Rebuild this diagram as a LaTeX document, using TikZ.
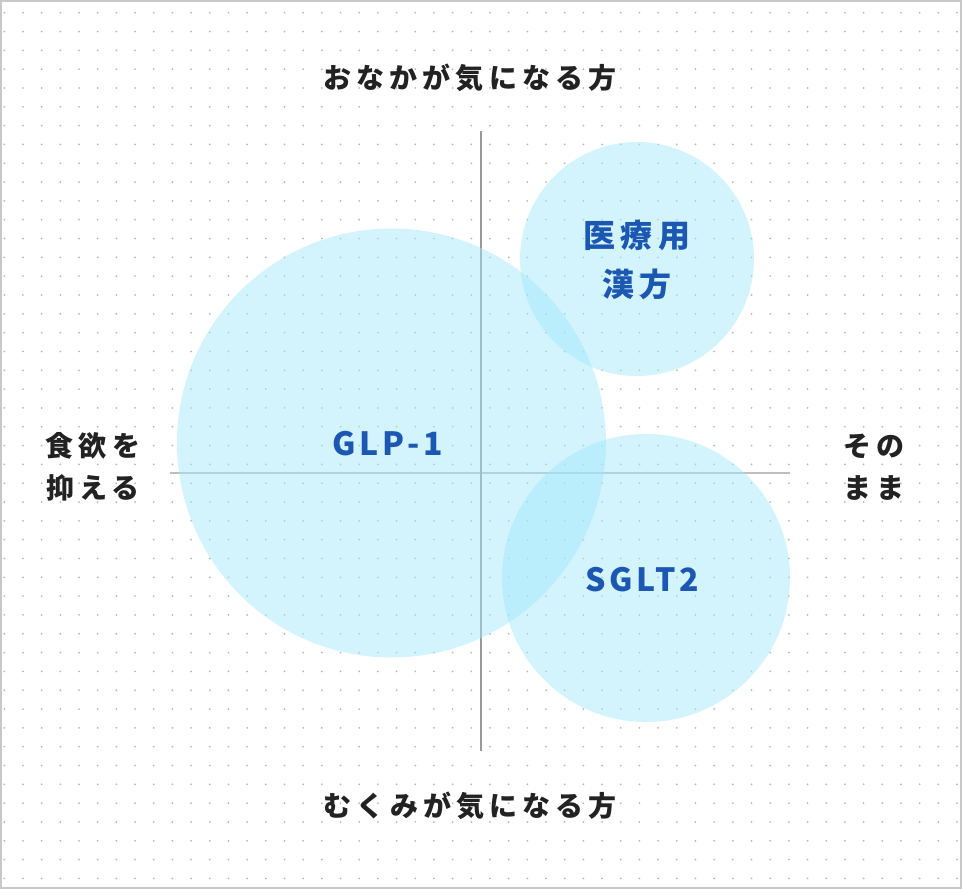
\documentclass[tikz,border=0pt]{standalone}
\usepackage{fontspec}
\setmainfont{Noto Sans CJK JP}
\newfontfamily\jpfont{Noto Sans CJK JP}[LetterSpace=18]
\newfontfamily\tagfont{Noto Sans CJK JP}[LetterSpace=16]
\newfontfamily\drugfont{Noto Sans CJK JP}[LetterSpace=12]
\usetikzlibrary{positioning}
\definecolor{inkgray}{RGB}{34,34,34}
\definecolor{deepblue}{RGB}{28,88,178}
\definecolor{bubblecyan}{RGB}{162,233,251}
\definecolor{dotgray}{RGB}{185,185,185}
\definecolor{framegray}{RGB}{200,200,200}

\tikzset{
    axislabel/.style={text=inkgray, align=center,
        font=\jpfont\bfseries\fontsize{28pt}{42pt}\selectfont},
    bubblelabel/.style={text=deepblue, align=center,
        font=\tagfont\bfseries\fontsize{32pt}{49pt}\selectfont},
    druglabel/.style={bubblelabel, font=\drugfont\bfseries\fontsize{32pt}{49pt}\selectfont},
    bubblefill/.style={fill=bubblecyan, fill opacity=0.47},
}

\begin{document}
\begin{tikzpicture}[x=1pt, y=-1pt]
    \useasboundingbox (0,0) rectangle (962,889);
    \fill[white] (0,0) rectangle (962,889);

    % dotted paper
    \foreach \i in {0,...,51}
        \foreach \j in {0,...,46}
            \fill[dotgray] (4.3+18.68*\i, 12.7+18.82*\j) circle (1pt);

    % axes
    \coordinate (top) at (481,131);
    \coordinate (bottom) at (481,751);
    \coordinate (left) at (170,473);
    \coordinate (right) at (790,473);
    \draw[line width=2pt, black!25] (left) -- (right);
    \draw[line width=2pt, black!40] (top) -- (bottom);

    % bubbles
    \fill[bubblefill] (391.5,443) circle (214.5pt);
    \fill[bubblefill] (637,259) circle (117pt);
    \fill[bubblefill] (646,578) circle (144pt);

    % labels
    \node[axislabel] (upper) at (470,78) {おなかが気になる方};
    \node[axislabel] (lower) at (470,806) {むくみが気になる方};
    \node[axislabel] (appetite) at (93,467) {食欲を\\抑える};
    \node[axislabel] (asis) at (874,467) {その\\まま};

    \node[druglabel] (glp) at (388,444) {GLP-1};
    \node[bubblelabel] (kampo) at (637,260) {医療用\\漢方};
    \node[druglabel] (sglt) at (642,580) {SGLT2};

    \draw[framegray, line width=2pt] (1,1) rectangle (961,888);
\end{tikzpicture}
\end{document}
